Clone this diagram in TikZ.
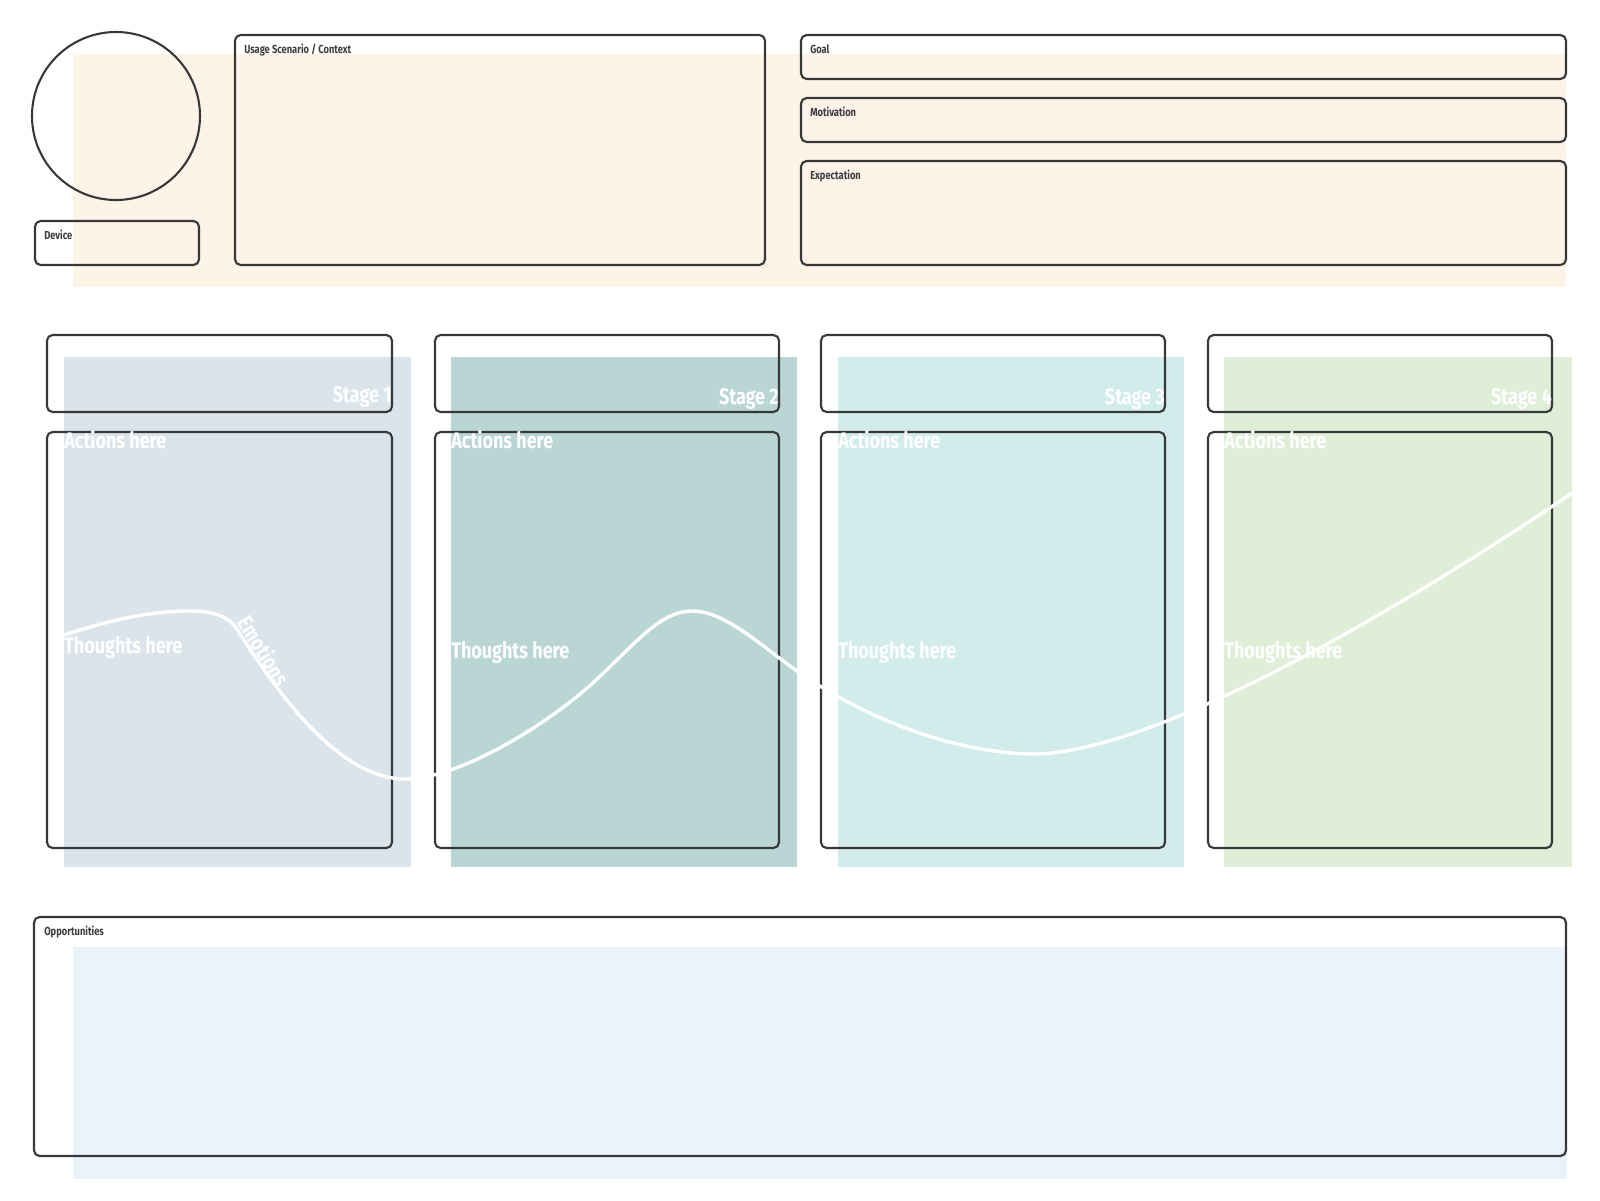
\documentclass[tikz,border=0pt]{standalone}
\usepackage{fontspec}
\setmainfont[FakeStretch=0.8]{Fira Sans}
\definecolor{boxline}{HTML}{383838}
\definecolor{tagtext}{HTML}{3D3D3D}
\definecolor{peach}{HTML}{FDF3E7}
\definecolor{stageA}{HTML}{DAE4EA}
\definecolor{stageB}{HTML}{B9D6D4}
\definecolor{stageC}{HTML}{D2ECEB}
\definecolor{stageD}{HTML}{DFEED6}
\definecolor{oppfill}{HTML}{EAF2FC}
\tikzset{
	box/.style={draw=boxline, line width=1.5pt, rounded corners=1.4mm},
	tag/.style={anchor=base west, inner sep=0pt, text=tagtext, font=\fontsize{8.3}{10}\selectfont\bfseries},
	big/.style={inner sep=0pt, text=white, font=\fontsize{16}{18}\selectfont\bfseries},
	emo/.style={draw=white, line width=2.4pt}
}
\begin{document}
\begin{tikzpicture}[x=0.25mm, y=-0.25mm]
		\useasboundingbox (0,0) rectangle (1600,1200);

		% persona
		\fill [peach] (73,54) rectangle (1566,287);
		\draw [draw=boxline, line width=1.5pt] (116,116) circle (84);
		\draw [box] (35,221) rectangle (199,265);
		\draw [box] (235,35) rectangle (765,265);
		\draw [box] (801,35) rectangle (1566,79);
		\draw [box] (801,98) rectangle (1566,142);
		\draw [box] (801,161) rectangle (1566,265);
		\node [tag] (device) at (44,239) {Device};
		\node [tag] (usage) at (244,53) {Usage Scenario / Context};
		\node [tag] (goal) at (810,53) {Goal};
		\node [tag] (motiv) at (810,116) {Motivation};
		\node [tag] (expect) at (810,179) {Expectation};

		% stages
		\fill [stageA] (64,357) rectangle (411,867);
		\fill [stageB] (451,357) rectangle (797,867);
		\fill [stageC] (838,357) rectangle (1184,867);
		\fill [stageD] (1224,357) rectangle (1572,867);
		\draw [box] (47,335) rectangle (392,412);
		\draw [box] (47,432) rectangle (392,848);
		\draw [box] (435,335) rectangle (779,412);
		\draw [box] (435,432) rectangle (779,848);
		\draw [box] (821,335) rectangle (1165,412);
		\draw [box] (821,432) rectangle (1165,848);
		\draw [box] (1208,335) rectangle (1552,412);
		\draw [box] (1208,432) rectangle (1552,848);

		% emotion curve
		\draw [emo] (64,635) .. controls (110,620) and (150,611) .. (190,611)
			.. controls (205,611) and (226,613) .. (236,628)
			.. controls (262,667) and (330,779) .. (405,779)
			.. controls (460,779) and (550,723) .. (596,680)
			.. controls (635,644) and (660,611) .. (692,611)
			.. controls (725,611) and (760,645) .. (797,671)
			.. controls (870,722) and (960,754) .. (1036,754)
			.. controls (1180,750) and (1472,561) .. (1572,493);
		\path (234,622) -- (276,690) node [big, midway, sloped, above=1pt] (emotions) {Emotions};

		\node [big, anchor=base east] (stage1) at (392,402) {Stage 1};
		\node [big, anchor=base east] (stage2) at (779,404) {Stage 2};
		\node [big, anchor=base east] (stage3) at (1165,404) {Stage 3};
		\node [big, anchor=base east] (stage4) at (1552,404) {Stage 4};
		\node [big, anchor=base west] (act1) at (64,448) {Actions here};
		\node [big, anchor=base west] (act2) at (451,448) {Actions here};
		\node [big, anchor=base west] (act3) at (838,448) {Actions here};
		\node [big, anchor=base west] (act4) at (1224,448) {Actions here};
		\node [big, anchor=base west] (thought1) at (64,653) {Thoughts here};
		\node [big, anchor=base west] (thought2) at (451,658) {Thoughts here};
		\node [big, anchor=base west] (thought3) at (838,658) {Thoughts here};
		\node [big, anchor=base west] (thought4) at (1224,658) {Thoughts here};

		% opportunities
		\fill [oppfill] (73,947) rectangle (1567,1179);
		\draw [box] (34,917) rectangle (1566,1156);
		\node [tag] (opp) at (44,935) {Opportunities};
	\end{tikzpicture}
\end{document}
